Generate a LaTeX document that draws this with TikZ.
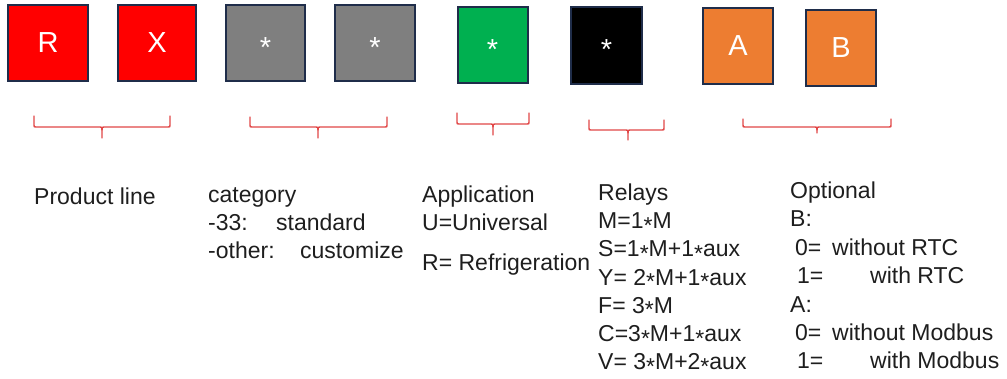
\documentclass[tikz,border=0pt]{standalone}
\usepackage{fontspec}
\setmainfont{Liberation Sans}
\definecolor{bxred}{RGB}{255,0,0}
\definecolor{bxgray}{RGB}{127,127,127}
\definecolor{bxgreen}{RGB}{0,176,80}
\definecolor{bxorange}{RGB}{237,125,49}
\definecolor{bxedge}{RGB}{31,45,74}
\definecolor{brred}{RGB}{225,70,70}
\definecolor{txt}{RGB}{30,30,30}
\newcommand\tstar{\raisebox{-0.2em}[0.55em][0pt]{*}}
\newcommand\bstar{\raisebox{-0.22em}[0.55em][0pt]{*}}
\newcommand\cbrace[6]{%
  \draw[bracestyle] (#1,#4) -- (#1,#5-2) .. controls (#1,#5) .. (#1+2,#5) -- (#3-2,#5) .. controls (#3,#5) .. (#3,#5+3) -- (#3,#6);
  \draw[bracestyle] (#2,#4) -- (#2,#5-2) .. controls (#2,#5) .. (#2-2,#5) -- (#3+2,#5) .. controls (#3,#5) .. (#3,#5+3);}
\begin{document}
\begin{tikzpicture}[x=1pt,y=-1pt,
  box/.style={draw=bxedge, line width=2pt, inner sep=0pt, text=white,
    font=\fontsize{29}{29}\selectfont},
  bracestyle/.style={draw=brred, line width=1.4pt, line cap=round, line join=round},
  lbl/.style={anchor=base west, inner sep=0pt, text=txt, font=\fontsize{23}{27}\selectfont}]
\useasboundingbox (0,0) rectangle (1007,378);
% boxes
\node[box, fill=bxred, minimum width=80pt, minimum height=76pt] (bR) at (48,43) {R};
\node[box, fill=bxred, minimum width=78pt, minimum height=76pt] (bX) at (157,43) {X};
\node[box, fill=bxgray, minimum width=79pt, minimum height=76pt] (bG1) at (265.5,43) {\bstar};
\node[box, fill=bxgray, minimum width=80pt, minimum height=76pt] (bG2) at (375,43) {\bstar};
\node[box, fill=bxgreen, minimum width=70pt, minimum height=76pt] (bGr) at (492.5,45) {\bstar};
\node[box, fill=black, minimum width=71pt, minimum height=77pt] (bBk) at (606.5,45.5) {\bstar};
\node[box, fill=bxorange, minimum width=70pt, minimum height=76pt] (bA) at (738,46) {A};
\node[box, fill=bxorange, minimum width=70pt, minimum height=76pt] (bB) at (841,48) {B};
% braces
\cbrace{34}{170}{102}{116}{127}{138}
\cbrace{250}{387}{318}{117}{127}{138}
\cbrace{457}{529}{493}{113}{124}{135}
\cbrace{589}{664}{628}{120}{130}{140}
\cbrace{743}{891}{817}{119}{127}{133}
% texts
\node[lbl] (tP) at (34,204) {Product line};
\node[lbl] (tC1) at (208,202) {category};
\node[lbl] (tC2) at (208,230) {\makebox[68pt][l]{-33:}standard};
\node[lbl] (tC3) at (208,258) {\makebox[92pt][l]{-other:}customize};
\node[lbl] (tA1) at (422,202) {Application};
\node[lbl] (tA2) at (422,230) {U=Universal};
\node[lbl] (tA3) at (422,270) {R= Refrigeration};
\node[lbl] (tR1) at (598,200.5) {Relays};
\node[lbl] (tR2) at (598,228.7) {M=1\tstar M};
\node[lbl] (tR3) at (598,256.9) {S=1\tstar M+1\tstar aux};
\node[lbl] (tR4) at (598,285.1) {Y= 2\tstar M+1\tstar aux};
\node[lbl] (tR5) at (598,313.3) {F= 3\tstar M};
\node[lbl] (tR6) at (598,341.5) {C=3\tstar M+1\tstar aux};
\node[lbl] (tR7) at (598,369.7) {V= 3\tstar M+2\tstar aux};
\node[lbl] (tO1) at (790,198) {Optional};
\node[lbl] (tO2) at (790,226.5) {B:};
\node[lbl] (tO3) at (795,255) {\makebox[37pt][l]{0=}without RTC};
\node[lbl] (tO4) at (797,283.5) {\makebox[73pt][l]{1=}with RTC};
\node[lbl] (tO5) at (790,312) {A:};
\node[lbl] (tO6) at (795,340) {\makebox[37pt][l]{0=}without Modbus};
\node[lbl] (tO7) at (797,368.5) {\makebox[73pt][l]{1=}with Modbus};
\end{tikzpicture}
\end{document}
